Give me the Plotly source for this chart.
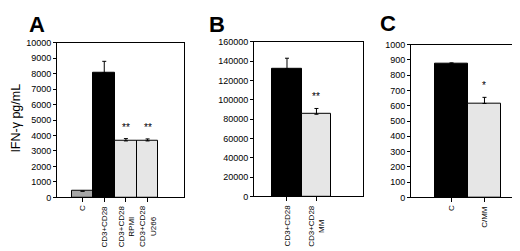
import plotly.graph_objects as go

# Panel A
a_cats = ["C", "CD3+CD28", "CD3+CD28<br>RPMI", "CD3+CD28<br>U266"]
a_vals = [400, 8050, 3650, 3650]
a_err = [0, 750, 150, 130]
a_colors = ["#a6a6a6", "#000000", "#e6e6e6", "#e6e6e6"]
a_stars = ["", "", "**", "**"]
a_yticks = list(range(0, 10001, 1000))

# Panel B
b_cats = ["CD3+CD28", "CD3+CD28<br>MM"]
b_vals = [132000, 85000]
b_err = [11000, 6000]
b_colors = ["#000000", "#e6e6e6"]
b_stars = ["", "**"]
b_yticks = list(range(0, 160001, 20000))

# Panel C
c_cats = ["C", "C/MM"]
c_vals = [875, 615]
c_err = [6, 40]
c_colors = ["#000000", "#e6e6e6"]
c_stars = ["", "*"]
c_yticks = list(range(0, 1001, 100))

W, H = 520, 251
FONT = "Arial, Liberation Sans, sans-serif"

panels = [
    dict(cats=a_cats, vals=a_vals, err=a_err, colors=a_colors, stars=a_stars, yticks=a_yticks,
         ymax=10000, xpx=(49, 176), ypx=(31, 192), xr=(-1.18, 4.68), letter="A", lx=29, ly=12),
    dict(cats=b_cats, vals=b_vals, err=b_err, colors=b_colors, stars=b_stars, yticks=b_yticks,
         ymax=160000, xpx=(246, 355), ypx=(30, 191), xr=(-1.12, 2.58), letter="B", lx=209, ly=12),
    dict(cats=c_cats, vals=c_vals, err=c_err, colors=c_colors, stars=c_stars, yticks=c_yticks,
         ymax=1000, xpx=(403, 516), ypx=(33, 192), xr=(-1.23, 2.2), letter="C", lx=380, ly=11),
]

fig = go.Figure()
annotations = []
layout = {}
for i, p in enumerate(panels, start=1):
    xa = "x" if i == 1 else f"x{i}"
    ya = "y" if i == 1 else f"y{i}"
    fig.add_trace(go.Bar(
        x=list(range(len(p["cats"]))), y=p["vals"],
        marker=dict(color=p["colors"], line=dict(color="black", width=1)),
        width=1,
        error_y=dict(type="data", symmetric=False, array=p["err"],
                     arrayminus=[0] * len(p["err"]), color="black", thickness=1, width=2),
        xaxis=xa, yaxis=ya, showlegend=False,
    ))
    xkey = "xaxis" if i == 1 else f"xaxis{i}"
    ykey = "yaxis" if i == 1 else f"yaxis{i}"
    layout[xkey] = dict(
        domain=[p["xpx"][0] / W, p["xpx"][1] / W], anchor=ya, range=list(p["xr"]),
        tickmode="array", tickvals=list(range(len(p["cats"]))), showticklabels=False,
        ticks="outside", ticklen=4, tickcolor="black",
        showline=True, linecolor="black", linewidth=1, mirror=True,
        showgrid=False, zeroline=False,
    )
    layout[ykey] = dict(
        domain=[1 - p["ypx"][1] / H, 1 - p["ypx"][0] / H], anchor=xa, range=[0, p["ymax"]],
        tickmode="array", tickvals=p["yticks"], ticktext=[str(v) for v in p["yticks"]],
        ticks="outside", ticklen=3, tickcolor="black",
        showline=True, linecolor="black", linewidth=1, mirror=True,
        showgrid=False, zeroline=False, tickfont=dict(size=9, color="black", family=FONT),
    )
    # category labels (rotated, lines centred)
    for j, c in enumerate(p["cats"]):
        annotations.append(dict(
            x=j, y=0, xref=xa, yref=ya, text=c, textangle=-90, align="center",
            showarrow=False, xanchor="center", yanchor="top", yshift=-7, borderpad=0,
            font=dict(size=8, color="black", family=FONT),
        ))
    for j, s in enumerate(p["stars"]):
        if s:
            annotations.append(dict(
                x=j, y=p["vals"][j] + p["err"][j], xref=xa, yref=ya, text=s,
                showarrow=False, yanchor="bottom", yshift=4,
                font=dict(size=10, color="black", family=FONT),
            ))
    annotations.append(dict(
        x=p["lx"] / W, y=1 - p["ly"] / H, xref="paper", yref="paper", text=f"<b>{p['letter']}</b>",
        showarrow=False, xanchor="center", yanchor="middle", borderpad=0,
        font=dict(size=22, color="black", family=FONT),
    ))

annotations.append(dict(
    x=8 / W, y=1 - 110 / H, xref="paper", yref="paper", text="IFN-γ pg/mL", textangle=-90,
    showarrow=False, xanchor="center", yanchor="middle", font=dict(size=12.5, color="black", family=FONT),
))

fig.update_layout(
    width=W, height=H, margin=dict(l=0, r=0, t=0, b=0),
    paper_bgcolor="white", plot_bgcolor="white", bargap=0,
    annotations=annotations, **layout,
)
fig.write_html("out.html")
